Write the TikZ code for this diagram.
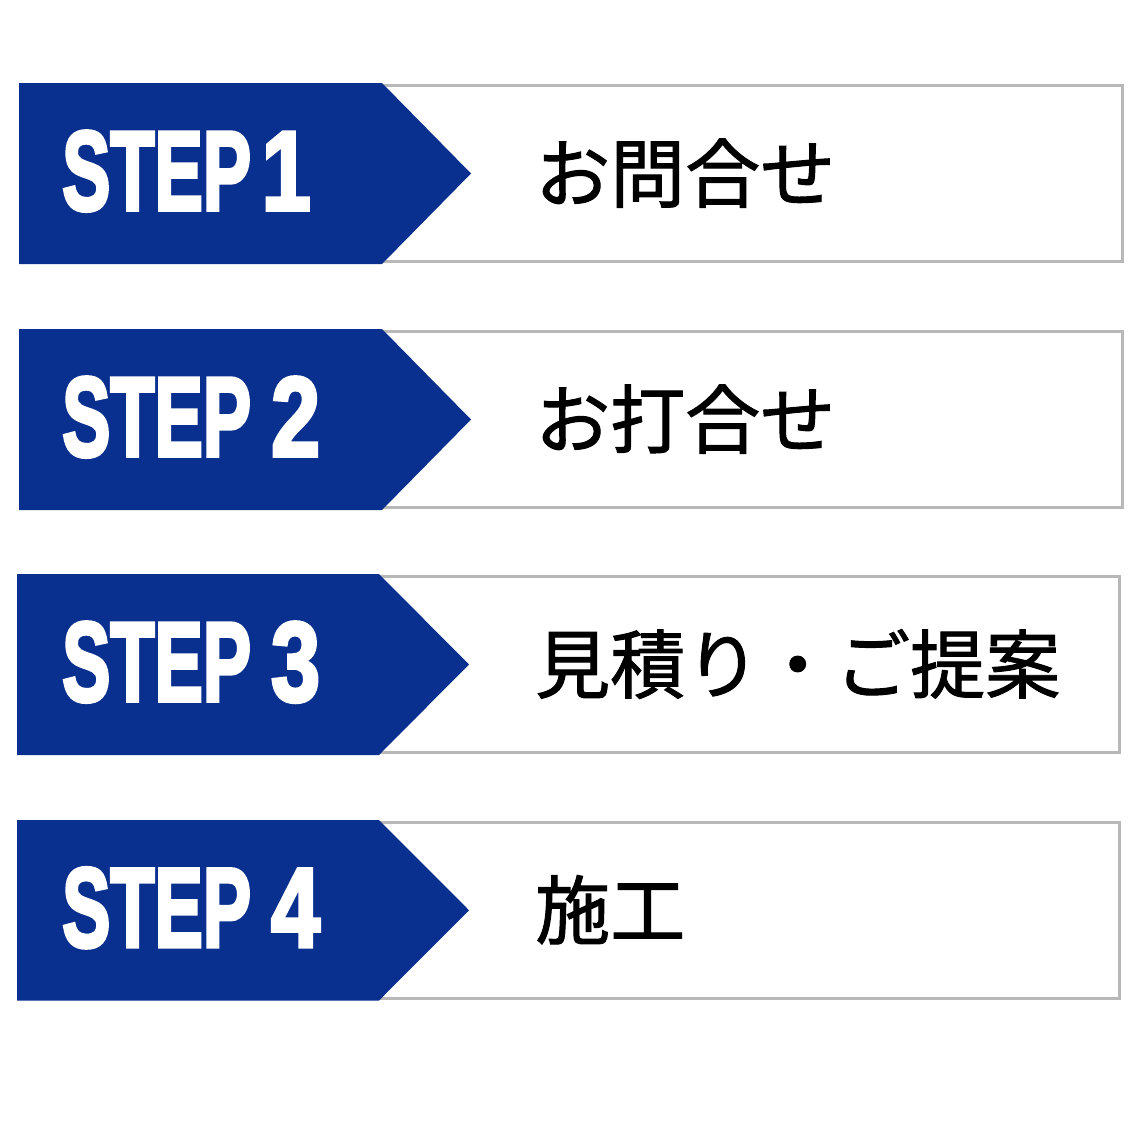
\documentclass[tikz,border=0pt]{standalone}
\usepackage{fontspec}
\setmainfont{Liberation Sans}
\newfontfamily\stepfont[FakeBold=3.5]{Liberation Sans Bold}
\newfontfamily\jpfont[FakeBold=1.3]{Noto Sans CJK JP}
\usetikzlibrary{calc}
\definecolor{stepblue}{RGB}{10,48,143}
\definecolor{boxgray}{RGB}{184,184,184}
\tikzset{
  graybox/.style={draw=boxgray, line width=3pt, fill=white},
  arrowshape/.style={fill=stepblue, draw=none},
  steplabel/.style={text=white, inner sep=0pt, font=\stepfont\fontsize{113pt}{120pt}\selectfont},
  jplabel/.style={text=black, inner sep=0pt, font=\jpfont\fontsize{75pt}{80pt}\selectfont},
}
% #1 n, #2 top, #3 bottom, #4 left, #5 flat end, #6 tip, #7 gray right, #8 step digit, #9 label
\newcommand\myrow[9]{%
  \draw[graybox] (300,{#2+2.5}) rectangle (#7,{#3-2.5});
  \fill[arrowshape] (#4,#2) -- (#5,#2) -- (#6,{(#2+#3)/2}) -- (#5,#3) -- (#4,#3) -- cycle;
  \node[steplabel, anchor=base west] (step#1) at (62,{(#2+#3)/2+36.5})
    {\scalebox{0.64}[1]{STEP}\hspace{20pt}\scalebox{0.78}[1]{#8}};
  \node[jplabel, anchor=base west] (label#1) at (535,{(#2+#3)/2+28}) {#9};
}
\begin{document}
\begin{tikzpicture}[x=1pt,y=-1pt]
\useasboundingbox[fill=white] (0,0) rectangle (1146,1146);
\myrow{1}{83}{264}{19}{382}{471}{1122}{\kern-12pt 1}{お問合せ}
\myrow{2}{329}{510}{19}{382}{471}{1122}{2}{お打合せ}
\myrow{3}{574}{755}{17}{379}{469}{1119.5}{3}{見積り・ご提案}
\myrow{4}{820}{1000.5}{17}{379}{469}{1119.5}{4}{施工}
\end{tikzpicture}
\end{document}
